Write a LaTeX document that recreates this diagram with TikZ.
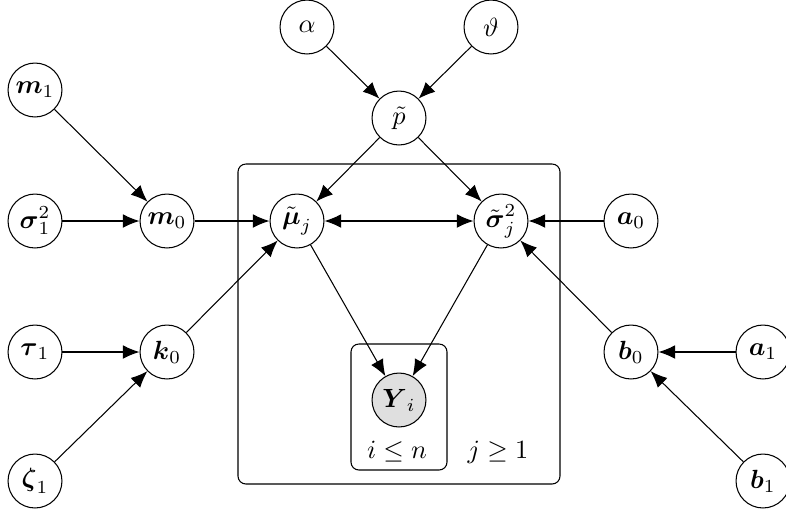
\documentclass[tikz,border=0pt]{standalone}
\usepackage{amsmath}
\usepackage{amssymb}
\usepackage{tikz}
\usetikzlibrary{arrows.meta}

\begin{document}
\begin{tikzpicture}[x=0.38pt,y=0.38pt,yscale=-1,xscale=1,
  latent/.style={draw,circle,minimum size=20.5pt,inner sep=1pt},
  obs/.style={latent,fill=gray!25},
  edge/.style={-{Latex[length=6.3pt,width=5.2pt]}},
  biedge/.style={{Latex[length=6.3pt,width=5.2pt]}-{Latex[length=6.3pt,width=5.2pt]}},
  plate/.style={draw,rounded corners=3pt}]
\useasboundingbox (0,0) rectangle (786,511);
% plates
\draw [plate] (238,164) rectangle (560,484);
\draw [plate] (351,344) rectangle (447,470);
\node (ilab) at (397,452) {$i\leq n$};
\node (jlab) at (498,452) {$j\geq 1$};
% nodes
\node [latent] (alpha) at (307,27) {$\alpha$};
\node [latent] (theta) at (491,27) {$\vartheta$};
\node [latent] (p) at (399,118) {$\tilde{p}$};
\node [latent] (m1) at (35,90) {$\boldsymbol{m}_1$};
\node [latent] (s1) at (35,221) {$\boldsymbol{\sigma}_1^2$};
\node [latent] (m0) at (167,221) {$\boldsymbol{m}_0$};
\node [latent] (mu) at (297,221) {$\tilde{\boldsymbol{\mu}}_j$};
\node [latent] (sj) at (501,221) {$\tilde{\boldsymbol{\sigma}}_j^2$};
\node [latent] (a0) at (631,221) {$\boldsymbol{a}_0$};
\node [latent] (tau1) at (35,352) {$\boldsymbol{\tau}_1$};
\node [latent] (k0) at (167,352) {$\boldsymbol{k}_0$};
\node [latent] (b0) at (631,352) {$\boldsymbol{b}_0$};
\node [latent] (a1) at (763,352) {$\boldsymbol{a}_1$};
\node [obs] (Y) at (399,400) {$\boldsymbol{Y}_i$};
\node [latent] (zeta1) at (35,481) {$\boldsymbol{\zeta}_1$};
\node [latent] (b1) at (763,481) {$\boldsymbol{b}_1$};
% edges
\draw [edge] (alpha) -- (p);
\draw [edge] (theta) -- (p);
\draw [edge] (p) -- (mu);
\draw [edge] (p) -- (sj);
\draw [edge] (m1) -- (m0);
\draw [edge] (s1) -- (m0);
\draw [edge] (m0) -- (mu);
\draw [edge] (tau1) -- (k0);
\draw [edge] (zeta1) -- (k0);
\draw [edge] (k0) -- (mu);
\draw [biedge] (mu) -- (sj);
\draw [edge] (a0) -- (sj);
\draw [edge] (b0) -- (sj);
\draw [edge] (a1) -- (b0);
\draw [edge] (b1) -- (b0);
\draw [edge] (mu) -- (Y);
\draw [edge] (sj) -- (Y);
\end{tikzpicture}
\end{document}
